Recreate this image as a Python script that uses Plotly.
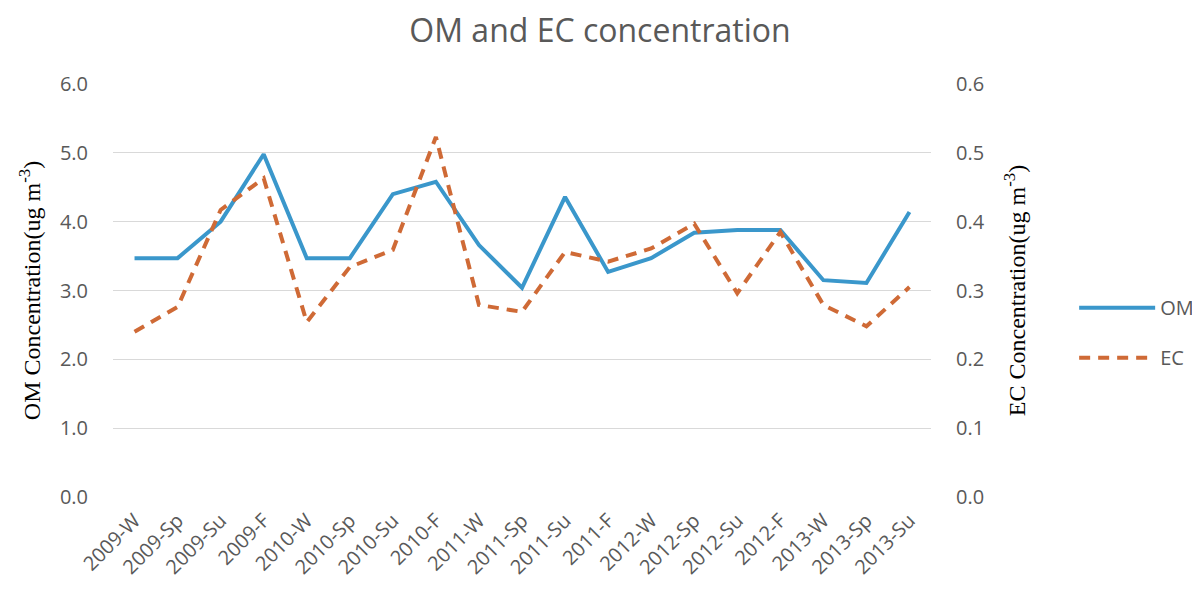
import plotly.graph_objects as go

categories = ["2009-W", "2009-Sp", "2009-Su", "2009-F", "2010-W", "2010-Sp", "2010-Su", "2010-F",
              "2011-W", "2011-Sp", "2011-Su", "2011-F", "2012-W", "2012-Sp", "2012-Su", "2012-F",
              "2013-W", "2013-Sp", "2013-Su"]
om_values = [3.47, 3.47, 4.0, 4.98, 3.47, 3.47, 4.40, 4.58, 3.66, 3.04, 4.36, 3.27, 3.47, 3.84,
             3.88, 3.88, 3.15, 3.11, 4.14]
ec_values = [0.240, 0.276, 0.417, 0.463, 0.254, 0.334, 0.359, 0.523, 0.279, 0.269, 0.356, 0.342,
             0.361, 0.397, 0.296, 0.385, 0.279, 0.248, 0.305]
left_ticks = [0, 1, 2, 3, 4, 5, 6]
right_ticks = [0, 0.1, 0.2, 0.3, 0.4, 0.5, 0.6]

fig = go.Figure()
fig.add_trace(go.Scatter(x=categories, y=om_values, name="OM", mode="lines", legendgroup="om",
                         line=dict(color="#3A97CB", width=4)))
fig.add_trace(go.Scatter(x=categories, y=ec_values, name="EC", mode="lines", yaxis="y2",
                         legendgroup="ec",
                         line=dict(color="#CF6A36", width=4, dash="11px,8px")))

gray = "#595959"
fig.update_layout(
    width=1200, height=590,
    paper_bgcolor="white", plot_bgcolor="white",
    margin=dict(l=105, r=277, t=76, b=101, autoexpand=False),
    title=dict(text="OM and EC concentration", x=(600 - 8) / 1200, xref="container", xanchor="center",
               y=0.962, yref="container", yanchor="middle",
               font=dict(family="Open Sans", size=32, color=gray)),
    xaxis=dict(tickangle=-45, showgrid=False, showline=False, ticks="", automargin=False,
               range=[-0.5, len(categories) - 0.5], ticklabelstandoff=7,
               tickfont=dict(family="Open Sans", size=20, color=gray)),
    yaxis=dict(range=[0, 6], tickvals=left_ticks, automargin=False,
               ticktext=[f"{v:.1f}" for v in left_ticks],
               showgrid=True, gridcolor="#D9D9D9", gridwidth=1, zeroline=False, showline=False,
               ticks="", ticklabelstandoff=24,
               tickfont=dict(family="Open Sans", size=20, color=gray),
               title=dict(text="OM Concentration(ug m<sup>-3</sup>)", standoff=12,
                          font=dict(family="Liberation Serif", size=24, color="black"))),
    yaxis2=dict(range=[0, 0.6], tickvals=right_ticks, automargin=False,
                ticktext=[f"{v:.1f}" for v in right_ticks],
                overlaying="y", side="right", showgrid=False, zeroline=False, showline=False,
                ticks="", ticklabelstandoff=24,
                tickfont=dict(family="Open Sans", size=20, color=gray),
                title=dict(text="EC Concentration(ug m<sup>-3</sup>)", standoff=24,
                           font=dict(family="Liberation Serif", size=24, color="black"))),
    legend=dict(x=1.175, xref="paper", y=0.398, yref="paper", xanchor="left", yanchor="middle",
                font=dict(family="Open Sans", size=20, color=gray), itemwidth=76,
                tracegroupgap=21, bgcolor="rgba(0,0,0,0)"),
    showlegend=True,
)
fig.write_html("out.html")
